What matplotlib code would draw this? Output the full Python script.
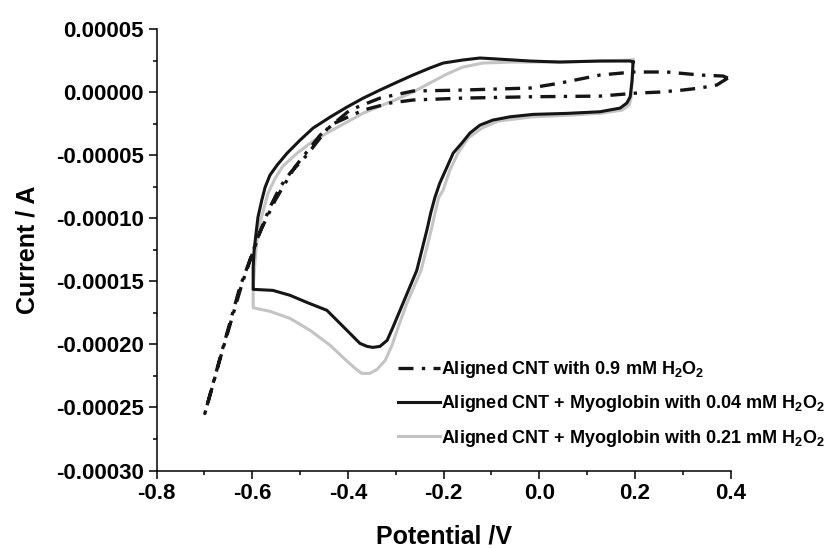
# Cyclic voltammograms of aligned CNT electrodes with and without myoglobin

import numpy as np
import matplotlib
matplotlib.use("Agg")
import matplotlib.pyplot as plt
from matplotlib.ticker import FuncFormatter, FormatStrFormatter, MultipleLocator

# Aligned CNT with 0.9 mM H2O2 (potential in V, current in uA)
cnt_v = [0.394, 0.371, 0.336, 0.300, 0.252, 0.204, 0.127, -0.013, -0.160, -0.264,
         -0.312, -0.368, -0.437, -0.486, -0.521, -0.542, -0.563, -0.588, -0.605,
         -0.626, -0.647, -0.667, -0.699,
         -0.663, -0.621, -0.584, -0.552, -0.511, -0.458, -0.396, -0.333, -0.264,
         -0.160, -0.019, 0.043, 0.127, 0.196, 0.267, 0.336, 0.384, 0.394]
cnt_i = [11.1, 5.6, 3.2, 1.6, 0.0, -0.8, -3.2, -3.7, -4.8, -6.3,
         -8.7, -14.3, -26.2, -50.0, -64.3, -75.4, -91.3, -115.1, -133.3,
         -154.8, -183.3, -210.3, -254.8,
         -206.0, -151.6, -111.0, -85.7, -59.5, -34.1, -14.3, -4.8, 0.8,
         1.6, 3.2, 7.1, 13.5, 15.9, 15.9, 13.5, 12.7, 11.1]

# Aligned CNT + myoglobin with 0.04 mM H2O2
mb04_v = [0.196, 0.194, 0.190, 0.183, 0.169, 0.127, 0.058, -0.013, -0.061, -0.097,
          -0.124, -0.145, -0.162, -0.180, -0.193, -0.208, -0.218, -0.227, -0.235,
          -0.256, -0.285, -0.306, -0.318, -0.333, -0.348, -0.360, -0.375, -0.402,
          -0.444, -0.486, -0.521, -0.557, -0.598,
          -0.598, -0.598, -0.596, -0.592, -0.588, -0.580, -0.573, -0.563, -0.548,
          -0.527, -0.500, -0.473, -0.437, -0.402, -0.368, -0.333, -0.297, -0.264,
          -0.229, -0.201, -0.160, -0.124, -0.088, -0.019, 0.043, 0.127, 0.190, 0.196]
mb04_i = [23.8, 9.5, -3.7, -8.7, -12.7, -15.6, -16.9, -17.7, -19.6, -22.2,
          -26.2, -32.5, -40.5, -48.4, -59.5, -72.2, -83.3, -96.0, -109.5,
          -141.3, -167.5, -186.5, -196.8, -201.6, -202.4, -201.6, -199.2, -188.9,
          -173.0, -166.7, -161.1, -157.2, -156.4,
          -155.6, -138.9, -125.4, -111.9, -99.2, -85.7, -75.4, -65.9, -57.9,
          -48.4, -38.1, -28.6, -19.8, -11.9, -4.8, 1.6, 7.9, 13.5,
          19.0, 23.0, 25.4, 27.0, 26.2, 24.6, 23.8, 24.6, 24.6, 23.8]

# Aligned CNT + myoglobin with 0.21 mM H2O2
mb21_v = [0.196, 0.192, 0.188, 0.173, 0.131, 0.064, -0.019, -0.086, -0.120, -0.149,
          -0.170, -0.187, -0.201, -0.210, -0.218, -0.226, -0.247, -0.277, -0.295,
          -0.308, -0.322, -0.339, -0.354, -0.371, -0.385, -0.406, -0.437, -0.479,
          -0.521, -0.563, -0.598,
          -0.598, -0.594, -0.590, -0.584, -0.575, -0.567, -0.552, -0.536, -0.506,
          -0.473, -0.437, -0.402, -0.368, -0.333, -0.297, -0.264, -0.229, -0.193,
          -0.160, -0.118, -0.055, 0.043, 0.127, 0.196]
mb21_i = [25.4, -4.0, -10.3, -14.3, -16.7, -18.3, -19.8, -23.0, -28.6, -36.5,
          -48.4, -61.9, -77.8, -83.3, -96.0, -109.5, -141.3, -167.5, -186.5,
          -200.8, -212.7, -219.8, -223.0, -223.0, -219.0, -211.9, -200.8, -188.9,
          -179.4, -173.8, -171.0,
          -154.8, -133.3, -117.5, -104.0, -91.3, -80.2, -68.3, -58.7, -48.4,
          -38.9, -31.0, -23.8, -16.7, -11.1, -5.6, 0.0, 7.1, 14.3,
          19.8, 23.0, 23.8, 23.8, 24.6, 25.4]

labels = ["Aligned CNT with 0.9 mM H$_\\mathbf{2}$O$_\\mathbf{2}$",
          "Aligned CNT + Myoglobin with 0.04 mM H$_\\mathbf{2}$O$_\\mathbf{2}$",
          "Aligned CNT + Myoglobin with 0.21 mM H$_\\mathbf{2}$O$_\\mathbf{2}$"]


def current_label(val, pos):
    if abs(val) < 1e-9:
        val = 0.0
    return "%.5f" % val


plt.rcParams["font.family"] = ["Liberation Sans", "DejaVu Sans"]
plt.rcParams["font.weight"] = "bold"
plt.rcParams["mathtext.fontset"] = "custom"
plt.rcParams["mathtext.rm"] = "Liberation Sans:bold"
plt.rcParams["mathtext.bf"] = "Liberation Sans:bold"

fig = plt.figure(figsize=(8.26, 5.48), dpi=100)
ax = fig.add_axes([0.1895, 0.1414, 0.6951, 0.8057])

uA = 1e-6
g, = ax.plot(mb21_v, np.array(mb21_i) * uA, color="#c4c4c4", lw=2.2, zorder=2)
k, = ax.plot(mb04_v, np.array(mb04_i) * uA, color="#151515", lw=2.2, zorder=3)
d, = ax.plot(cnt_v, np.array(cnt_i) * uA, color="#151515", lw=2.4,
             dashes=(4.5, 2.5, 1, 2.5), zorder=4)

ax.set_xlim(-0.8, 0.4)
ax.set_ylim(-0.0003, 0.00005)
ax.xaxis.set_major_locator(MultipleLocator(0.2))
ax.xaxis.set_minor_locator(MultipleLocator(0.1))
ax.yaxis.set_major_locator(MultipleLocator(0.00005))
ax.yaxis.set_minor_locator(MultipleLocator(0.000025))
ax.xaxis.set_major_formatter(FormatStrFormatter("%.1f"))
ax.yaxis.set_major_formatter(FuncFormatter(current_label))

for side in ["top", "right"]:
    ax.spines[side].set_visible(False)
for side in ["left", "bottom"]:
    ax.spines[side].set_linewidth(1.1)
ax.tick_params(which="major", length=6, width=1.1, labelsize=16, pad=3)
ax.tick_params(which="minor", length=3.2, width=1.1)

ax.set_xlabel("Potential /V", fontsize=18, fontweight="bold", labelpad=15)
ax.set_ylabel("Current / A", fontsize=18, fontweight="bold", labelpad=12)

ax.legend([d, k, g], labels, loc="upper left",
          bbox_to_anchor=(398 / 826, 1 - 359 / 548), bbox_transform=fig.transFigure,
          frameon=False, fontsize=13, handlelength=2.3, handletextpad=0.1,
          borderpad=0, borderaxespad=0, labelspacing=0.74)

fig.savefig("out.png", dpi=100)
